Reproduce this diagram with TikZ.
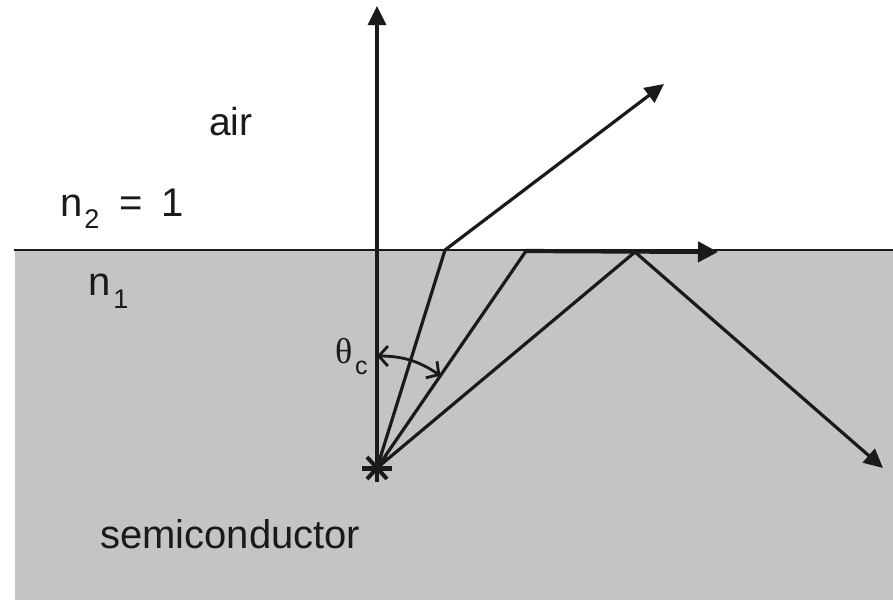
\documentclass[tikz,border=0pt]{standalone}
\usepackage{fontspec}
\setmainfont{Liberation Sans}
\newfontfamily\thetafont{Liberation Serif}
\usetikzlibrary{arrows.meta,calc}
\definecolor{semigray}{RGB}{196,196,196}
\definecolor{ink}{RGB}{26,26,26}
\begin{document}
\begin{tikzpicture}[x=1pt,y=-1pt,
  ray/.style={draw=ink,line width=3.2pt},
  rayarrow/.style={ray,-{Triangle[length=19pt,width=18pt]}},
  lbl/.style={anchor=base west,inner sep=0pt,text=ink,font=\fontsize{39}{39}\selectfont},
  angarrow/.style={draw=ink,line width=2.8pt,{Straight Barb[length=9pt,width=20pt]}-{Straight Barb[length=9pt,width=20pt]}}]
\useasboundingbox (0,0) rectangle (893,600);
% semiconductor region
\fill[semigray] (15,250) rectangle (893,600);
\coordinate (bl) at (14,250);
\coordinate (br) at (893,250);
\draw[ink,line width=2.8pt] (bl) -- (br);
% points
\coordinate (src) at (377,468);
\coordinate (top) at (377,6);
\coordinate (p1) at (445,250);
\coordinate (p1out) at (664,84);
\coordinate (p2) at (526,251);
\coordinate (p2out) at (718,252);
\coordinate (p3) at (635,252);
\coordinate (p3out) at (883,468);
% rays
\draw[rayarrow] (src) -- (top);
\draw[ray] (src) -- (p1);
\draw[rayarrow] (p1) -- (p1out);
\draw[ray] (src) -- (p2);
\draw[draw=ink,line width=4.2pt,-{Triangle[length=20pt,width=20pt]}] (p2) -- (p2out);
\draw[ray] (src) -- (p3);
\draw[rayarrow] (p3) -- (p3out);
% critical angle arc
\coordinate (a1) at ($(src)!112pt!(top)$);
\coordinate (a2) at ($(src)!112pt!(p2)$);
\draw[angarrow] (a1) to[bend left=17] (a2);
% source star
\draw[ink,line width=5pt] ($(src)+(-15,0)$) -- ($(src)+(15,0)$);
\draw[ink,line width=4pt] ($(src)+(0,-14)$) -- ($(src)+(0,14)$);
\draw[ink,line width=4pt] ($(src)+(-10,-11)$) -- ($(src)+(10,11)$);
\draw[ink,line width=4pt] ($(src)+(-10,11)$) -- ($(src)+(10,-11)$);
% labels
\node[lbl] (air) at (209,135) {air};
\node[lbl,font=\fontsize{40}{40}\selectfont] (n2) at (60,216) {n\hspace{2pt}\raisebox{-12pt}{\fontsize{27}{27}\selectfont 2}\hspace{20pt}=\hspace{19pt}1};
\node[lbl,font=\fontsize{40}{40}\selectfont] (n1) at (88,295) {n\hspace{3pt}\raisebox{-13pt}{\fontsize{27}{27}\selectfont 1}};
\node[lbl,font=\fontsize{40}{40}\selectfont] (semi) at (100,548) {semiconductor};
\node[lbl,font=\fontsize{36}{36}\thetafont] (theta) at (335,363) {θ};
\node[lbl,font=\fontsize{25}{25}\selectfont] (c) at (355,374) {c};
\end{tikzpicture}
\end{document}
